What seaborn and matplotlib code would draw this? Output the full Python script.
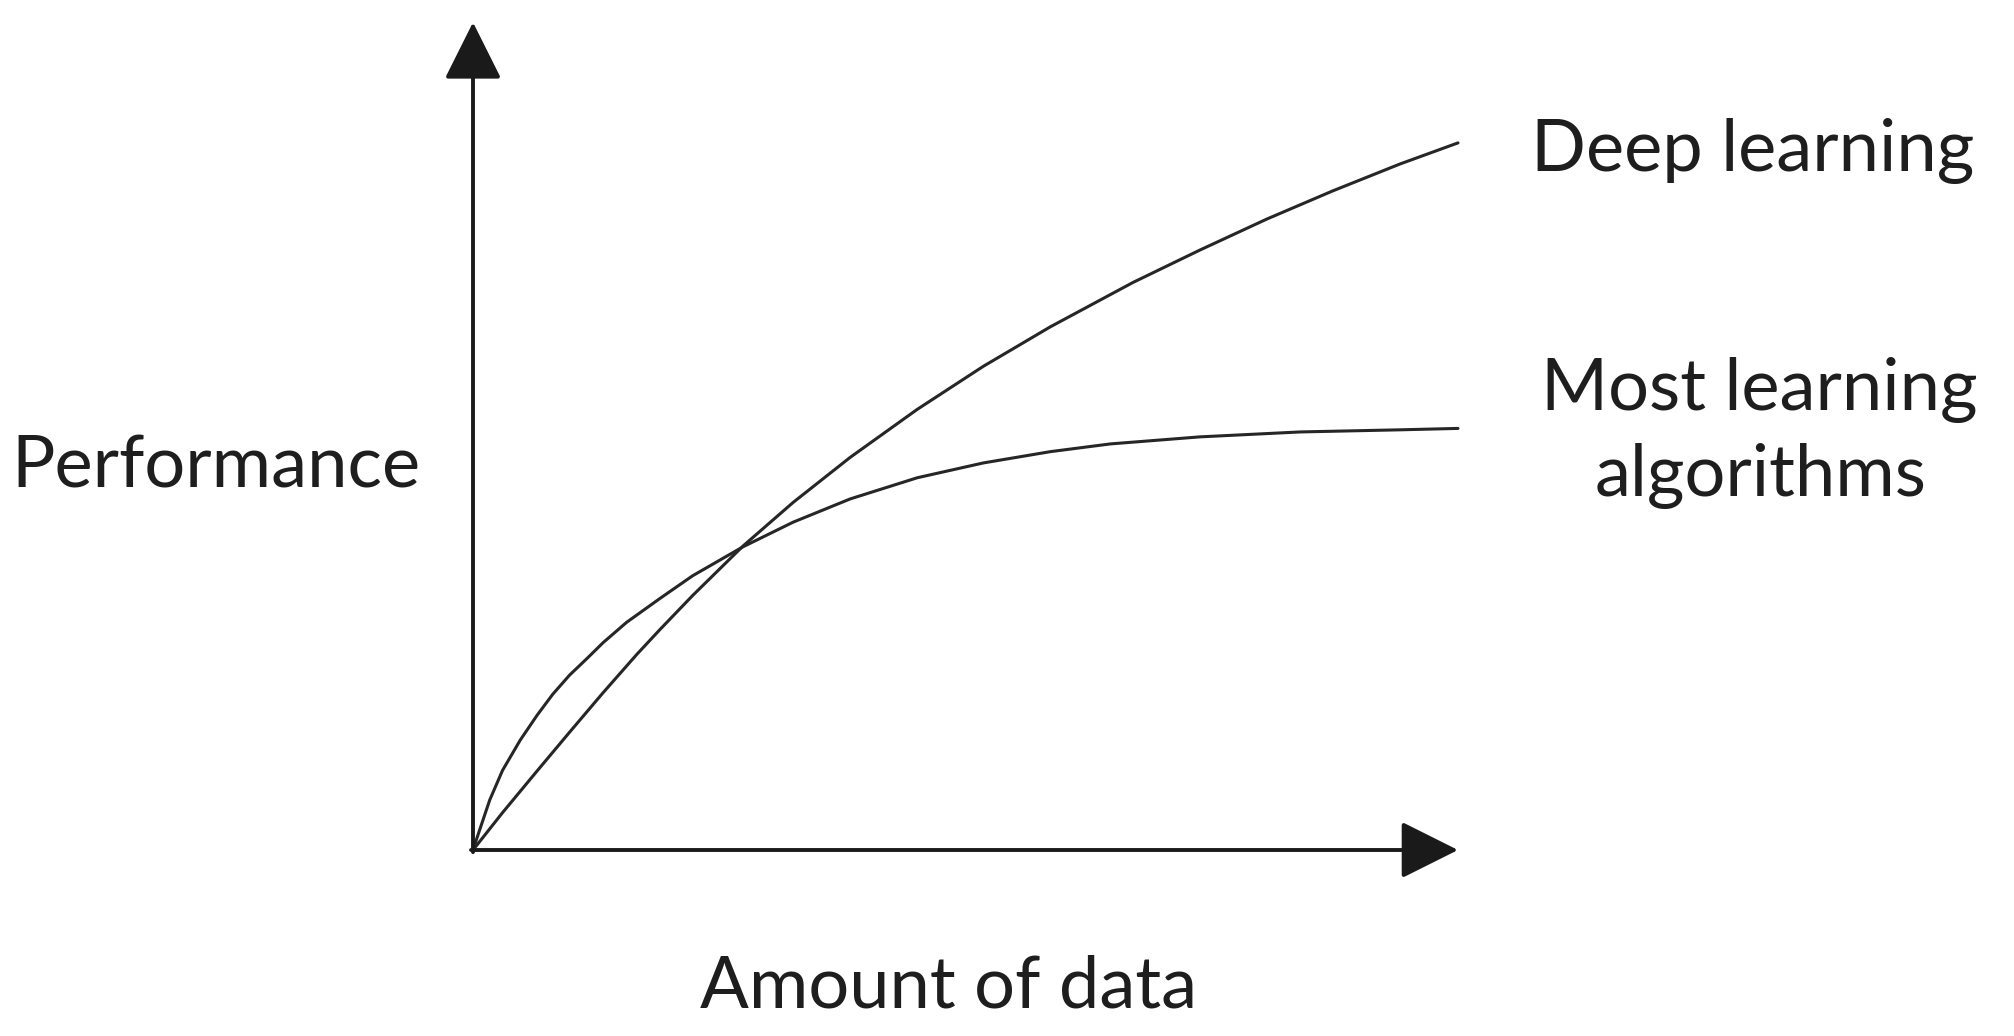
import numpy as np
import pandas as pd
import matplotlib
matplotlib.use("Agg")
import matplotlib.pyplot as plt
import seaborn as sns

# amount of data (0-100) vs performance (0-100)
deep_x = [0, 3.0, 6.5, 9.8, 13.2, 16.6, 19.0, 22.3, 27.4, 32.5, 38.3, 45.1,
          51.8, 58.6, 67.0, 73.8, 80.6, 87.3, 94.1, 100]
deep_y = [0, 5.3, 11.2, 16.7, 22.3, 27.7, 31.3, 36.1, 43.1, 49.3, 55.7, 62.5,
          68.6, 74.2, 80.5, 85.1, 89.5, 93.5, 97.3, 100.3]

most_x = [0, 0.4, 1.7, 3.0, 4.8, 6.5, 8.1, 9.8, 11.6, 13.2, 15.6, 19.0, 22.3,
          27.4, 32.5, 38.3, 45.1, 51.8, 58.6, 64.7, 73.8, 84.0, 94.1, 100]
most_y = [0, 1.7, 7.1, 11.3, 15.6, 19.1, 22.1, 24.8, 27.2, 29.4, 32.3, 35.7,
          38.9, 43.0, 46.5, 49.8, 52.8, 54.9, 56.5, 57.6, 58.6, 59.3, 59.6, 59.8]

curve_labels = ["Deep learning", "Most learning\nalgorithms"]
x_label = "Amount of data"
y_label = "Performance"

sns.set_theme(style="white")
plt.rcParams["font.family"] = ["Lato", "DejaVu Sans"]

W, H = 2014, 1036
fig = plt.figure(figsize=(W / 100, H / 100), dpi=100)
# origin at (473, 850) px, x=100 at 1458 px, y=100 at 145 px
ax = fig.add_axes([473 / W, 1 - 850 / H, 985 / W, 705 / H])

df = pd.concat([
    pd.DataFrame({"x": deep_x, "y": deep_y, "curve": "deep"}),
    pd.DataFrame({"x": most_x, "y": most_y, "curve": "most"}),
])
sns.lineplot(data=df, x="x", y="y", units="curve", estimator=None,
             color="#262626", lw=2.2, sort=False, ax=ax, clip_on=False,
             solid_joinstyle="round", solid_capstyle="round")

ax.set_xlim(0, 100)
ax.set_ylim(0, 100)
ax.set_axis_off()

# axes drawn as arrows
arrow = dict(arrowstyle="-|>,head_length=0.4,head_width=0.2", mutation_scale=90,
             lw=2.8, color="#1a1a1a", shrinkA=0, shrinkB=0)
ax.annotate("", xy=(0, 117.4), xytext=(0, -0.3), arrowprops=arrow,
            annotation_clip=False)
ax.annotate("", xy=(100, 0), xytext=(-0.2, 0), arrowprops=arrow,
            annotation_clip=False)

fs = 52
tc = "#1e1e1e"
fig.text(216 / W, 1 - 488 / H, y_label, ha="center", va="baseline", fontsize=fs, color=tc)
fig.text(949 / W, 1 - 1008 / H, x_label, ha="center", va="baseline", fontsize=fs, color=tc)
fig.text(1753 / W, 1 - 171 / H, curve_labels[0], ha="center", va="baseline", fontsize=fs, color=tc)
lines = curve_labels[1].split("\n")
fig.text(1759 / W, 1 - 410 / H, lines[0], ha="center", va="baseline", fontsize=fs, color=tc)
fig.text(1761 / W, 1 - 496 / H, lines[1], ha="center", va="baseline", fontsize=fs, color=tc)

fig.savefig("out.png", dpi=100, facecolor="white")
